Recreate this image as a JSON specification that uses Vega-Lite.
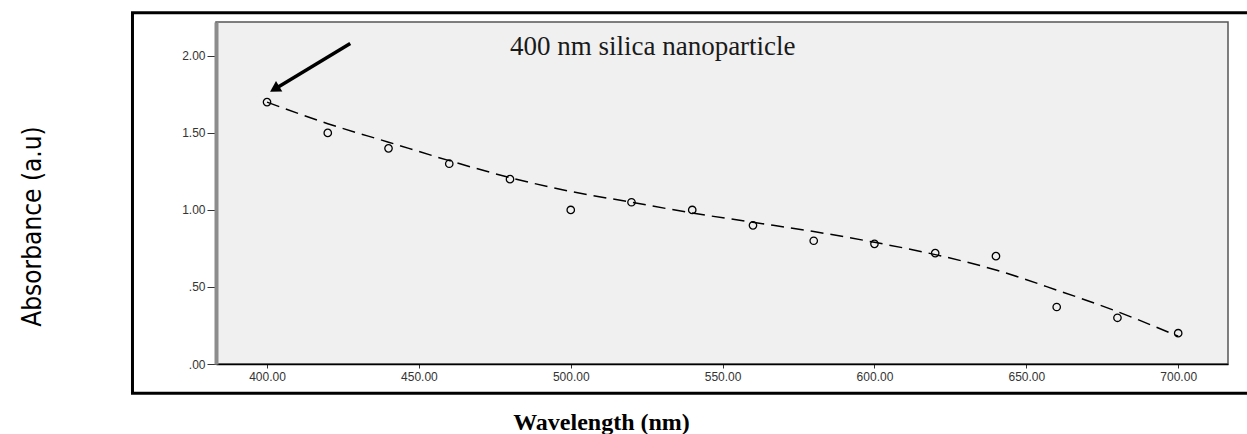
{
  "$schema": "https://vega.github.io/schema/vega-lite/v6.json",
  "width": 1012,
  "height": 342,
  "autosize": {"type": "none"},
  "padding": {"left": 216, "top": 22, "right": 19, "bottom": 70},
  "background": "white",
  "config": {
    "view": {"fill": "#f0f0f0", "stroke": "#555555", "strokeWidth": 1.5},
    "axis": {"grid": false, "labelFont": "Liberation Sans", "labelFontSize": 12, "labelColor": "#333333", "tickColor": "#333333"}
  },
  "datasets": {
    "obs": [
      {"wavelength": 400, "absorbance": 1.70},
      {"wavelength": 420, "absorbance": 1.50},
      {"wavelength": 440, "absorbance": 1.40},
      {"wavelength": 460, "absorbance": 1.30},
      {"wavelength": 480, "absorbance": 1.20},
      {"wavelength": 500, "absorbance": 1.00},
      {"wavelength": 520, "absorbance": 1.05},
      {"wavelength": 540, "absorbance": 1.00},
      {"wavelength": 560, "absorbance": 0.90},
      {"wavelength": 580, "absorbance": 0.80},
      {"wavelength": 600, "absorbance": 0.78},
      {"wavelength": 620, "absorbance": 0.72},
      {"wavelength": 640, "absorbance": 0.70},
      {"wavelength": 660, "absorbance": 0.37},
      {"wavelength": 680, "absorbance": 0.30},
      {"wavelength": 700, "absorbance": 0.20}
    ],
    "fit": [
      {"wavelength": 400, "absorbance": 1.70},
      {"wavelength": 420, "absorbance": 1.56},
      {"wavelength": 440, "absorbance": 1.44},
      {"wavelength": 460, "absorbance": 1.32},
      {"wavelength": 480, "absorbance": 1.21},
      {"wavelength": 500, "absorbance": 1.12},
      {"wavelength": 520, "absorbance": 1.05},
      {"wavelength": 540, "absorbance": 0.98},
      {"wavelength": 560, "absorbance": 0.92},
      {"wavelength": 580, "absorbance": 0.86},
      {"wavelength": 600, "absorbance": 0.79},
      {"wavelength": 620, "absorbance": 0.71},
      {"wavelength": 640, "absorbance": 0.61},
      {"wavelength": 660, "absorbance": 0.48},
      {"wavelength": 680, "absorbance": 0.34},
      {"wavelength": 700, "absorbance": 0.18}
    ],
    "one": [{}]
  },
  "layer": [
    {
      "data": {"name": "one"},
      "mark": {"type": "rect", "fill": null, "stroke": "black", "strokeWidth": 3, "clip": false},
      "encoding": {
        "x": {"datum": 355.7, "type": "quantitative", "scale": {"domain": [383.2, 716.4], "nice": false, "zero": false}},
        "x2": {"datum": 735},
        "y": {"datum": 2.28, "type": "quantitative", "scale": {"domain": [0, 2.22], "nice": false}},
        "y2": {"datum": -0.19}
      }
    },
    {
      "data": {"name": "fit"},
      "mark": {"type": "line", "color": "black", "strokeWidth": 1.5, "strokeDash": [13, 7], "interpolate": "monotone"},
      "encoding": {
        "x": {"field": "wavelength", "type": "quantitative"},
        "y": {"field": "absorbance", "type": "quantitative"}
      }
    },
    {
      "data": {"name": "obs"},
      "mark": {"type": "point", "shape": "circle", "filled": false, "color": "black", "size": 55, "strokeWidth": 1.3, "opacity": 1},
      "encoding": {
        "x": {
          "field": "wavelength", "type": "quantitative",
          "axis": {
            "values": [400, 450, 500, 550, 600, 650, 700], "format": ".2f",
            "domainColor": "black", "domainWidth": 1.5, "tickSize": 4, "labelPadding": 3,
            "title": "Wavelength (nm)", "titleFont": "Liberation Serif", "titleFontSize": 24, "titleFontWeight": "bold",
            "titleColor": "black", "titleX": 385, "titleY": 65, "titleAnchor": "middle", "titleAlign": "center", "titleBaseline": "alphabetic"
          }
        },
        "y": {
          "field": "absorbance", "type": "quantitative",
          "axis": {
            "values": [0, 0.5, 1, 1.5, 2], "format": ".2f", "labelExpr": "replace(datum.label, /^0/, '')",
            "domainColor": "#8c8c8c", "domainWidth": 4, "tickSize": 9, "labelPadding": 2,
            "title": "Absorbance  (a.u)", "titleFont": "Liberation Sans Narrow, DejaVu Sans Condensed, sans-serif", "titleFontSize": 26, "titleFontWeight": "normal", "titleLimit": 1000,
            "titleColor": "black", "titleX": -184, "titleY": 204, "titleAngle": 270, "titleAlign": "center", "titleBaseline": "middle"
          }
        }
      }
    },
    {
      "data": {"name": "one"},
      "mark": {"type": "rule", "color": "black", "strokeWidth": 3.5},
      "encoding": {
        "x": {"datum": 427.4, "type": "quantitative"},
        "y": {"datum": 2.08, "type": "quantitative"},
        "x2": {"datum": 403},
        "y2": {"datum": 1.79}
      }
    },
    {
      "data": {"name": "one"},
      "mark": {"type": "point", "shape": "triangle-up", "filled": true, "color": "black", "size": 150, "angle": 239, "opacity": 1},
      "encoding": {
        "x": {"datum": 402.5, "type": "quantitative"},
        "y": {"datum": 1.785, "type": "quantitative"}
      }
    },
    {
      "data": {"name": "one"},
      "mark": {"type": "text", "font": "Liberation Serif", "fontSize": 27, "color": "#1a1a1a", "align": "center", "baseline": "middle"},
      "encoding": {
        "x": {"datum": 527, "type": "quantitative"},
        "y": {"datum": 2.06, "type": "quantitative"},
        "text": {"value": "400 nm silica nanoparticle"}
      }
    }
  ]
}
